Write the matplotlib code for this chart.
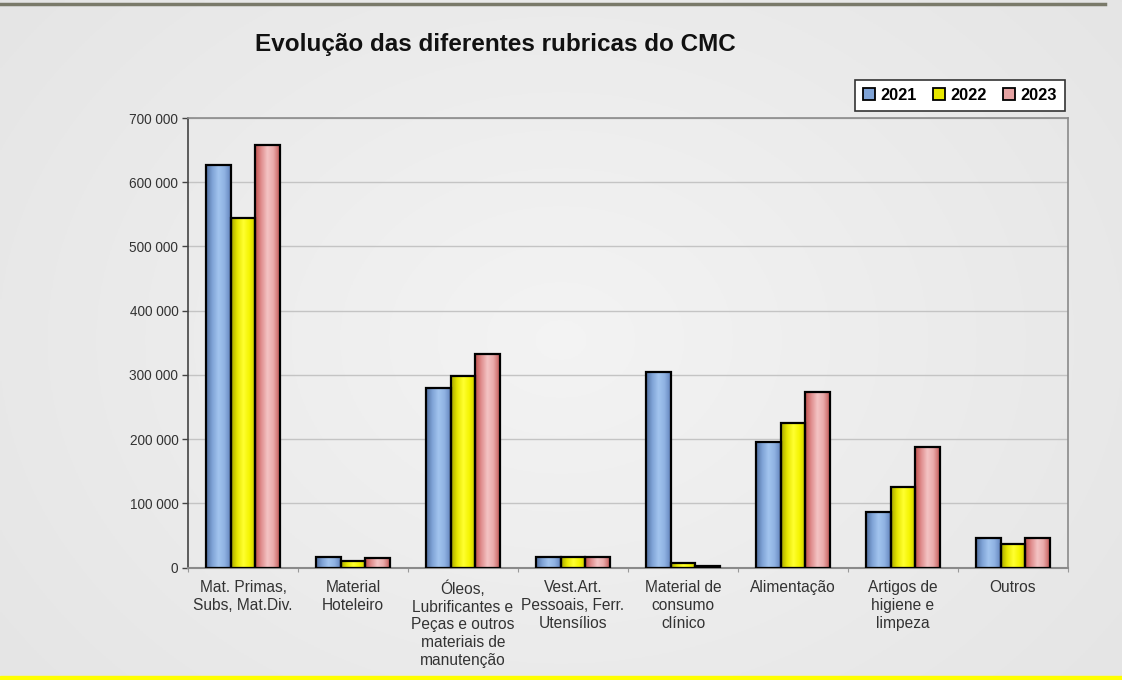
import numpy as np
import matplotlib
matplotlib.use("Agg")
import matplotlib.pyplot as plt
from matplotlib.patches import Patch, Rectangle
from matplotlib.colors import to_rgb
from matplotlib.ticker import FuncFormatter, FixedLocator

plt.rcParams['font.family'] = ['Liberation Sans', 'DejaVu Sans']

categories = [
    "Mat. Primas,\nSubs, Mat.Div.",
    "Material\nHoteleiro",
    "Óleos,\nLubrificantes e\nPeças e outros\nmateriais de\nmanutenção",
    "Vest.Art.\nPessoais, Ferr.\nUtensílios",
    "Material de\nconsumo\nclínico",
    "Alimentação",
    "Artigos de\nhigiene e\nlimpeza",
    "Outros",
]
years = ["2021", "2022", "2023"]
v2021 = [627000, 17000, 279000, 17000, 305000, 195000, 87000, 46000]
v2022 = [544000, 11000, 299000, 17000, 7000, 226000, 125000, 37000]
v2023 = [658000, 15000, 333000, 17000, 2000, 274000, 188000, 46000]
yticks = [0, 100000, 200000, 300000, 400000, 500000, 600000, 700000]

series = [v2021, v2022, v2023]
base_colors = ["#8DB3E2", "#FFFF00", "#E6A3A3"]
grad_stops = [
    ["#4F6FA0", "#7FA3D6", "#A2C4EE", "#8FB2E2", "#6283BC"],
    ["#A8A800", "#E8E800", "#FFFF30", "#F4F400", "#C8C800"],
    ["#C0504D", "#E08E8E", "#F4C4C4", "#E9A9A9", "#C45A58"],
]

W, H = 1122, 680
fig = plt.figure(figsize=(W / 100, H / 100), dpi=100)

# background gradient
bg = fig.add_axes([0, 0, 1, 1], zorder=-10)
xx = np.linspace(-1, 1, 400)
yy = np.linspace(-1, 1, 250)
X, Y = np.meshgrid(xx, yy)
r = np.sqrt((X * 0.9) ** 2 + (Y * 0.7) ** 2)
g = 0.955 - 0.05 * np.clip(r, 0, 1.4)
bg.imshow(np.dstack([g, g, g]), extent=[0, 1, 0, 1], aspect='auto')
bg.set_xlim(0, 1)
bg.set_ylim(0, 1)
bg.axis('off')
bg.add_patch(Rectangle((0, 0), 1, 4 / H, color="#FFFF00", transform=bg.transAxes))
bg.plot([0, 0.985], [1 - 3.5 / H, 1 - 3.5 / H], color="#7A7A6A", lw=2.5)

ax = fig.add_axes([188 / W, 1 - 567.7 / H, (1068 - 188) / W, (567.7 - 118) / H])
ax.set_facecolor("none")

n = len(categories)
x = np.arange(n)
bw = 0.227
for i, (vals, col, stops) in enumerate(zip(series, base_colors, grad_stops)):
    offs = x + (i - 1) * bw
    bars = ax.bar(offs, vals, width=bw, color=col, edgecolor="none", zorder=2)
    cols = np.array([to_rgb(c) for c in stops])
    t = np.linspace(0, 1, 60)
    pos = np.linspace(0, 1, len(stops))
    grad = np.stack([np.interp(t, pos, cols[:, k]) for k in range(3)], axis=-1)[np.newaxis, :, :]
    for b in bars:
        x0, w_, h_ = b.get_x(), b.get_width(), b.get_height()
        im = ax.imshow(grad, extent=[x0, x0 + w_, 0, h_], aspect='auto', zorder=2.5, interpolation='bilinear')
        im.set_clip_path(b)
    ax.bar(offs, vals, width=bw, fill=False, edgecolor="black", linewidth=1.6, zorder=3)

ax.set_xlim(-0.5, n - 0.5)
ax.set_ylim(0, 700000)
ax.set_aspect('auto')

ax.set_yticks(yticks)
ax.yaxis.set_major_formatter(FuncFormatter(lambda v, p: f"{int(v):,}".replace(",", " ")))
ax.tick_params(axis='y', labelsize=9.8, colors="#333333", length=4, width=1, direction='out', pad=3)
ax.grid(axis='y', color="#C4C4C4", lw=1, zorder=0)

ax.xaxis.set_major_locator(FixedLocator(np.arange(-0.5, n, 1.0)))
ax.xaxis.set_minor_locator(FixedLocator(x))
ax.set_xticklabels([], minor=False)
ax.set_xticklabels(categories, minor=True, fontsize=11.2, color="#333333", va='top', linespacing=1.24)
ax.tick_params(axis='x', which='major', length=3, color="#999999", direction='out')
ax.tick_params(axis='x', which='minor', length=0, pad=9)

for s in ['top', 'right']:
    ax.spines[s].set_color("#8A8A8A")
    ax.spines[s].set_linewidth(1.2)
ax.spines['left'].set_color("#444444")
ax.spines['left'].set_linewidth(1.2)
ax.spines['bottom'].set_color("#8A8A8A")
ax.spines['bottom'].set_linewidth(1.5)
ax.tick_params(axis='y', color="#444444")

fig.text(495 / W, 1 - 44 / H, "Evolução das diferentes rubricas do CMC", ha='center', va='center',
         fontsize=17.5, fontweight='bold', color="#111111")

handles = [Patch(facecolor=c, edgecolor='black', linewidth=1.3) for c in ["#7FA3D6", "#E8E800", "#E6A3A3"]]
leg = fig.legend(handles, years, loc='upper right', bbox_to_anchor=(1065 / W, 1 - 80 / H), ncol=3,
                 frameon=True, fancybox=False, edgecolor="#333333", framealpha=1, facecolor='white',
                 prop={'weight': 'bold', 'size': 11.8}, handlelength=0.75, handleheight=0.75,
                 handletextpad=0.3, columnspacing=1.0, borderpad=0.5, borderaxespad=0)
leg.get_frame().set_linewidth(1.2)

fig.savefig("out.png", dpi=100)
